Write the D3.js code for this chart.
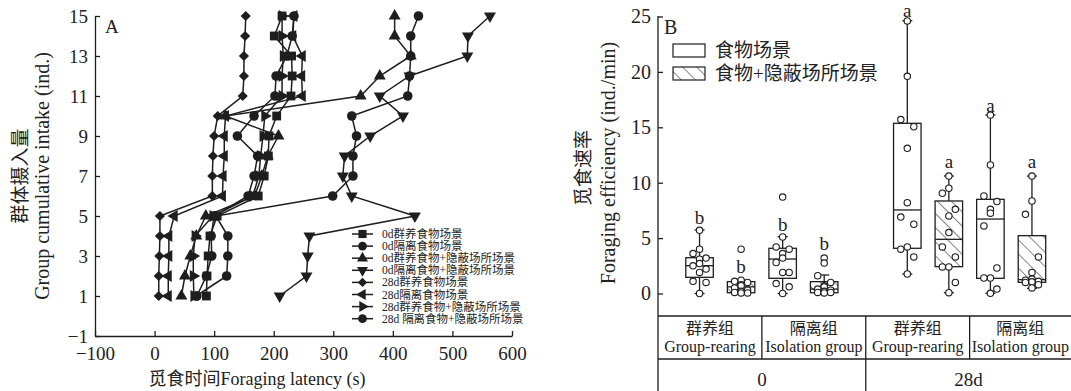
<!DOCTYPE html>
<html>
<head>
<meta charset="utf-8">
<script src="https://cdn.jsdelivr.net/npm/d3@7"></script>
<style>
  body { margin: 0; background: #fff; }
  svg text { font-family: "Liberation Serif", "Times New Roman", "Noto Sans CJK SC", serif; fill: #222; }
</style>
</head>
<body>
<svg id="chart" width="1071" height="391"></svg>
<script>
// ---------- Panel A data: foraging latency (s) at each cumulative intake ----------
const intake = [1, 2, 3, 4, 5, 6, 7, 8, 9, 10, 11, 12, 13, 14, 15];
const d0GroupFood   = [87, 88, 90, 93, 105, 174, 184, 191, 192, 205, 229, 231, 230, 201, 214];
const d0IsoFood     = [71, 87, 96, 95, 100, 157, 167, 173, 139, 167, 202, 204, 222, 231, 234];
const d0GroupCover  = [45, 51, 60, 70, 86, 168, 180, 190, 208, 119, 346, 378, 430, 403, 403];
const d0IsoCover    = [210, 255, 257, 260, 437, 331, 316, 319, 362, 417, 378, 428, 525, 526, 563];
const d28GroupFood  = [7, 7, 8, 9, 9, 97, 97, 98, 100, 106, 148, 150, 150, 152, 153];
const d28IsoFood    = [23, 23, 24, 24, 33, 114, 115, 117, 117, 119, 248, 247, 248, 232, 234];
const d28GroupCover = [66, 65, 65, 68, 98, 165, 175, 178, 182, 185, 214, 214, 216, 214, 214];
const d28IsoCover   = [70, 121, 123, 123, 103, 299, 333, 333, 339, 331, 425, 428, 430, 430, 443];
const seriesNames = ['0d群养食物场景', '0d隔离食物场景', '0d群养食物+隐蔽场所场景', '0d隔离食物+隐蔽场所场景',
  '28d群养食物场景', '28d隔离食物场景', '28d群养食物+隐蔽场所场景', '28d 隔离食物+隐蔽场所场景'];
const xTicksA = [-100, 0, 100, 200, 300, 400, 500, 600];
const yTicksA = [-1, 1, 3, 5, 7, 9, 11, 13, 15];

// ---------- Panel B data: foraging efficiency (ind./min) ----------
const groupCn = ['群养组', '隔离组', '群养组', '隔离组'];
const groupEn = ['Group-rearing', 'Isolation group', 'Group-rearing', 'Isolation group'];
const days = ['0', '28d'];
const legendB = ['食物场景', '食物+隐蔽场所场景'];
// boxes: 0d group food, 0d group cover, 0d iso food, 0d iso cover, 28d ... same order
const whiskLow  = [0, 0.05, 0, 0.05, 1.76, 0.07, 0.02, 0.47];
const q1        = [1.46, 0.07, 1.37, 0.07, 4.08, 2.42, 1.37, 1.01];
const median    = [2.51, 0.6, 3.11, 0.4, 7.54, 4.89, 6.72, 1.25];
const q3        = [3.23, 1.07, 4.08, 1.07, 15.36, 8.35, 8.5, 5.22];
const whiskHigh = [5.73, 1.2, 5.13, 1.67, 24.62, 10.6, 16.11, 10.6];
const pts = [
  [5.7, 4.0, 3.6, 3.2, 3.1, 2.7, 2.5, 2.2, 1.9, 1.1, 1.0, 0],
  [4.0, 1.2, 1.1, 1.0, 0.8, 0.7, 0.5, 0.3, 0.2, 0.1, 0.05, 0.05],
  [8.7, 5.1, 4.2, 4.0, 3.6, 3.2, 2.8, 1.9, 1.9, 0.9, 0.6, 0],
  [3.2, 2.75, 1.6, 1.0, 0.7, 0.6, 0.4, 0.3, 0.2, 0.1, 0.1, 0.05],
  [24.6, 19.6, 15.7, 15.05, 13.1, 8.2, 6.9, 6.25, 4.2, 4.0, 3.3, 1.76],
  [10.6, 9.5, 9.05, 7.6, 7.0, 5.5, 4.2, 3.3, 2.4, 2.4, 1.0, 0.07],
  [16.1, 11.6, 8.8, 8.3, 7.6, 7.25, 6.1, 2.3, 1.4, 1.4, 0.4, 0.02],
  [10.6, 8.35, 7.15, 3.3, 1.9, 1.3, 1.2, 1.1, 1.05, 1.0, 0.8, 0.5]
];
const sigLetter = ['b', 'b', 'b', 'b', 'a', 'a', 'a', 'a'];
const sigAt = [6.8, 2.4, 6.2, 4.4, 25.5, 11.8, 16.9, 11.8];
const yTicksB = [0, 5, 10, 15, 20, 25];

const svg = d3.select('#chart');
const ink = '#1e1e1e';

// ===================== Panel A =====================
const xA = d3.scaleLinear().domain([-100, 600]).range([95, 512]);
const yA = d3.scaleLinear().domain([-1, 15]).range([336, 16]);

const gxA = svg.append('g').attr('transform', 'translate(0,336)')
  .call(d3.axisBottom(xA).tickValues(xTicksA).tickSize(-5).tickSizeOuter(0).tickPadding(11));
const gyA = svg.append('g').attr('transform', 'translate(95,0)')
  .call(d3.axisLeft(yA).tickValues(yTicksA).tickSize(-5).tickSizeOuter(0).tickPadding(7));
[gxA, gyA].forEach(g => {
  g.selectAll('path,line').attr('stroke', ink).attr('stroke-width', 1.3);
  g.selectAll('text').style('font-size', '19px').attr('fill', '#222');
});

const shapeDefs = [
  { type: d3.symbolSquare, size: 78, rot: 0 },
  { type: d3.symbolCircle, size: 72, rot: 0 },
  { type: d3.symbolTriangle, size: 62, rot: 0 },
  { type: d3.symbolTriangle, size: 62, rot: 180 },
  { type: d3.symbolSquare, size: 52, rot: 45 },
  { type: d3.symbolTriangle, size: 62, rot: -90 },
  { type: d3.symbolTriangle, size: 62, rot: 90 },
  { type: d3.symbolCircle, size: 72, rot: 0 }
];
const seriesA = [d0GroupFood, d0IsoFood, d0GroupCover, d0IsoCover, d28GroupFood, d28IsoFood, d28GroupCover, d28IsoCover];
const line = d3.line().x(d => xA(d[0])).y(d => yA(d[1]));

seriesA.forEach((xs, i) => {
  const data = xs.map((v, k) => [v, intake[k]]);
  const g = svg.append('g');
  g.append('path').datum(data).attr('d', line)
    .attr('fill', 'none').attr('stroke', ink).attr('stroke-width', 1.5);
  const sd = shapeDefs[i];
  g.selectAll('path.m').data(data).enter().append('path')
    .attr('class', 'm')
    .attr('d', d3.symbol(sd.type, sd.size)())
    .attr('transform', d => `translate(${xA(d[0])},${yA(d[1])}) rotate(${sd.rot})`)
    .attr('fill', ink);
});

// legend A
const legA = svg.append('g').attr('transform', 'translate(352,234)');
seriesNames.forEach((name, i) => {
  const row = legA.append('g').attr('transform', `translate(0,${i * 12.1})`);
  row.append('line').attr('x1', 0).attr('x2', 21).attr('stroke', ink).attr('stroke-width', 1.5);
  const sd = shapeDefs[i];
  row.append('path').attr('d', d3.symbol(sd.type, sd.size * 0.85)())
    .attr('transform', `translate(10.5,0) rotate(${sd.rot})`).attr('fill', ink);
  row.append('text').attr('x', 30).attr('y', 0).attr('dy', '0.35em')
    .style('font-size', '11.5px').text(name);
});

svg.append('text').attr('x', 105).attr('y', 33).style('font-size', '19px').text('A');

svg.append('text').attr('transform', 'translate(20,176) rotate(-90)')
  .attr('text-anchor', 'middle').attr('dy', '0.35em').style('font-size', '19px').text('群体摄入量');
svg.append('text').attr('transform', 'translate(42,176) rotate(-90)')
  .attr('text-anchor', 'middle').attr('dy', '0.35em').style('font-size', '20px').text('Group cumulative intake (ind.)');
svg.append('text').attr('x', 257).attr('y', 379).attr('text-anchor', 'middle').attr('dy', '0.35em')
  .style('font-size', '18px').text('觅食时间Foraging latency (s)');

// ===================== Panel B =====================
const xB = d3.scaleLinear().domain([-1, 9]).range([658, 1073.5]);
const yB = d3.scaleLinear().domain([0, 25]).range([293.5, 16.5]);
const slot = i => (i < 4 ? i : i + 1);
const boxW = 27.5;

const defs = svg.append('defs');
const pat = defs.append('pattern').attr('id', 'hatch').attr('patternUnits', 'userSpaceOnUse')
  .attr('width', 10).attr('height', 10).attr('patternTransform', 'rotate(-45)');
pat.append('line').attr('x1', 0).attr('y1', 0).attr('x2', 0).attr('y2', 10)
  .attr('stroke', ink).attr('stroke-width', 1.1);

const gyB = svg.append('g').attr('transform', 'translate(658,0)')
  .call(d3.axisLeft(yB).tickValues(yTicksB).tickSize(-5).tickSizeOuter(0).tickPadding(7));
gyB.select('.domain').remove();
gyB.selectAll('line').attr('stroke', ink).attr('stroke-width', 1.3);
gyB.selectAll('text').style('font-size', '20px').attr('fill', '#222');
svg.append('line').attr('x1', 658).attr('x2', 658).attr('y1', 16).attr('y2', 391)
  .attr('stroke', ink).attr('stroke-width', 1.3);

// boxes
const jit = [0, 0, -1, 1, 0, 0, -1, 1, 0, -1, 1, 0];
q1.forEach((_, i) => {
  const cx = xB(slot(i));
  const g = svg.append('g');
  const ln = (x1, y1, x2, y2) => g.append('line').attr('x1', x1).attr('y1', y1).attr('x2', x2).attr('y2', y2)
    .attr('stroke', ink).attr('stroke-width', 1.3);
  ln(cx, yB(whiskHigh[i]), cx, yB(q3[i]));
  ln(cx, yB(q1[i]), cx, yB(whiskLow[i]));
  ln(cx - 5, yB(whiskHigh[i]), cx + 5, yB(whiskHigh[i]));
  ln(cx - 5, yB(whiskLow[i]), cx + 5, yB(whiskLow[i]));
  g.append('rect').attr('x', cx - boxW / 2).attr('y', yB(q3[i]))
    .attr('width', boxW).attr('height', yB(q1[i]) - yB(q3[i]))
    .attr('fill', i % 2 ? 'url(#hatch)' : '#fff').attr('stroke', ink).attr('stroke-width', 1.3);
  ln(cx - boxW / 2, yB(median[i]), cx + boxW / 2, yB(median[i]));
  g.selectAll('circle').data(pts[i]).enter().append('circle')
    .attr('cx', (d, k) => cx + jit[k] * 6.5).attr('cy', d => yB(d)).attr('r', 3.2)
    .attr('fill', '#fff').attr('stroke', ink).attr('stroke-width', 1.1);
  g.append('text').attr('x', cx).attr('y', yB(sigAt[i])).attr('dy', '0.3em')
    .attr('text-anchor', 'middle').style('font-size', '19px').text(sigLetter[i]);
});

// legend B
const legB = svg.append('g').attr('transform', 'translate(673,44)');
legendB.forEach((name, i) => {
  legB.append('rect').attr('x', 0).attr('y', i * 23).attr('width', 32).attr('height', 13)
    .attr('fill', i ? 'url(#hatch)' : '#fff').attr('stroke', ink).attr('stroke-width', 1.2);
  legB.append('text').attr('x', 42).attr('y', i * 23 + 6.5).attr('dy', '0.35em')
    .style('font-size', '19px').text(name);
});
svg.append('text').attr('x', 664).attr('y', 34).style('font-size', '20px').text('B');

svg.append('text').attr('transform', 'translate(583,168) rotate(-90)')
  .attr('text-anchor', 'middle').attr('dy', '0.35em').style('font-size', '19px').text('觅食速率');
svg.append('text').attr('transform', 'translate(608,163) rotate(-90)')
  .attr('text-anchor', 'middle').attr('dy', '0.35em').style('font-size', '20px').text('Foraging efficiency (ind./min)');

// category table under panel B
const tbl = svg.append('g');
const hl = (x1, x2, y) => tbl.append('line').attr('x1', x1).attr('x2', x2).attr('y1', y).attr('y2', y)
  .attr('stroke', ink).attr('stroke-width', 1.3);
const vl = (x, y1, y2) => tbl.append('line').attr('x1', x).attr('x2', x).attr('y1', y1).attr('y2', y2)
  .attr('stroke', ink).attr('stroke-width', 1.3);
const colEdges = [xB(-1), xB(1.5), xB(4), xB(6.5), 1071];
hl(658, 1071, 316);
hl(658, 1071, 359);
vl(colEdges[1], 316, 359);
vl(colEdges[2], 316, 391);
vl(colEdges[3], 316, 359);
groupCn.forEach((cn, j) => {
  const cx = (colEdges[j] + colEdges[j + 1]) / 2;
  tbl.append('text').attr('x', cx).attr('y', 328).attr('dy', '0.35em').attr('text-anchor', 'middle')
    .style('font-size', '16px').text(cn);
  tbl.append('text').attr('x', cx).attr('y', 346).attr('dy', '0.35em').attr('text-anchor', 'middle')
    .style('font-size', '16px').text(groupEn[j]);
});
days.forEach((d, j) => {
  const cx = (colEdges[j * 2] + colEdges[j * 2 + 2]) / 2;
  tbl.append('text').attr('x', cx).attr('y', 379).attr('dy', '0.35em').attr('text-anchor', 'middle')
    .style('font-size', '19px').text(d);
});
</script>
</body>
</html>
